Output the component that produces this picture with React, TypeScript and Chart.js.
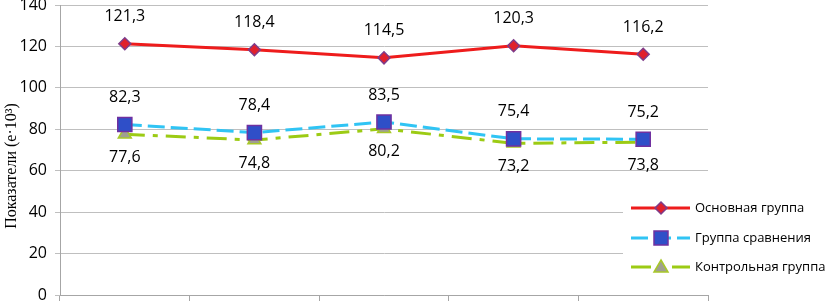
import React, { useEffect, useRef } from "react";
import { Chart, registerables } from "chart.js";

Chart.register(...registerables);

const categories = ["1", "2", "3", "4", "5"];
const mainGroup = [121.3, 118.4, 114.5, 120.3, 116.2];
const compareGroup = [82.3, 78.4, 83.5, 75.4, 75.2];
const controlGroup = [77.6, 74.8, 80.2, 73.2, 73.8];
const seriesNames = ["Основная группа", "Группа сравнения", "Контрольная группа"];
const yTicks = [0, 20, 40, 60, 80, 100, 120, 140];
const yTitle = "Показатели (е·10³)";

const RED = "#EE1C1C";
const CYAN = "#30C4F4";
const GREEN = "#9CCB14";
const TICK_FONT = "'Open Sans', 'DejaVu Sans', sans-serif";

const fmt = (v: number) => v.toFixed(1).replace(".", ",");

function drawMarker(ctx: CanvasRenderingContext2D, kind: string, x: number, y: number) {
  ctx.save();
  ctx.beginPath();
  if (kind === "diamond") {
    const r = 6;
    ctx.moveTo(x, y - r);
    ctx.lineTo(x + r, y);
    ctx.lineTo(x, y + r);
    ctx.lineTo(x - r, y);
    ctx.closePath();
    ctx.fillStyle = "#E0202C";
    ctx.strokeStyle = "#7E3C8A";
  } else if (kind === "square") {
    ctx.rect(x - 7, y - 7, 14, 14);
    ctx.fillStyle = "#2F4FC8";
    ctx.strokeStyle = "#7030A0";
  } else {
    ctx.moveTo(x, y - 7);
    ctx.lineTo(x + 7, y + 5);
    ctx.lineTo(x - 7, y + 5);
    ctx.closePath();
    ctx.fillStyle = "#A0A090";
    ctx.strokeStyle = "#A8C828";
  }
  ctx.lineWidth = 1.5;
  ctx.setLineDash([]);
  ctx.fill();
  ctx.stroke();
  ctx.restore();
}

const labelsPlugin = {
  id: "valueLabels",
  afterDatasetsDraw(chart: any) {
    const ctx = chart.ctx as CanvasRenderingContext2D;
    ctx.save();
    ctx.font = `16px ${TICK_FONT}`;
    ctx.fillStyle = "#000";
    ctx.textAlign = "center";
    ctx.textBaseline = "middle";
    const offsets = [-27, -27, 23];
    chart.data.datasets.forEach((ds: any, i: number) => {
      const meta = chart.getDatasetMeta(i);
      meta.data.forEach((pt: any, j: number) => {
        ctx.fillText(fmt(ds.data[j]), pt.x, pt.y + offsets[i]);
      });
    });
    ctx.restore();
  },
};

const legendPlugin = {
  id: "customLegend",
  afterDraw(chart: any) {
    const ctx = chart.ctx as CanvasRenderingContext2D;
    ctx.save();
    ctx.fillStyle = "#fff";
    ctx.fillRect(623, 190, 214, 92);
    const rows = [208, 238, 267];
    const styles = [
      { color: RED, dash: [] as number[], marker: "diamond" },
      { color: CYAN, dash: [17, 6], marker: "square" },
      { color: GREEN, dash: [20, 8, 5, 8], marker: "triangle" },
    ];
    styles.forEach((s, i) => {
      const y = rows[i];
      ctx.beginPath();
      ctx.strokeStyle = s.color;
      ctx.lineWidth = 3;
      ctx.setLineDash(s.dash);
      ctx.moveTo(631, y);
      ctx.lineTo(690, y);
      ctx.stroke();
      drawMarker(ctx, s.marker, 661, y);
      ctx.fillStyle = "#000";
      ctx.font = `13px ${TICK_FONT}`;
      ctx.textAlign = "left";
      ctx.textBaseline = "middle";
      ctx.fillText(seriesNames[i], 695, y);
    });
    ctx.restore();
  },
};

const yTitlePlugin = {
  id: "yTitle",
  afterDraw(chart: any) {
    const ctx = chart.ctx as CanvasRenderingContext2D;
    ctx.save();
    ctx.translate(12, 166);
    ctx.rotate(-Math.PI / 2);
    ctx.font = "16px 'Liberation Serif', 'DejaVu Serif', serif";
    ctx.fillStyle = "#000";
    ctx.textAlign = "center";
    ctx.textBaseline = "middle";
    ctx.fillText(yTitle, 0, 0);
    ctx.restore();
  },
};

export default function App() {
  const ref = useRef<HTMLCanvasElement>(null);
  useEffect(() => {
    document.body.style.margin = "0";
    const canvas = ref.current!;
    const chart = new Chart(canvas, {
      type: "line",
      data: {
        labels: categories,
        datasets: [
          {
            label: seriesNames[0],
            data: mainGroup,
            borderColor: RED,
            borderWidth: 3,
            pointStyle: "rectRot",
            pointRadius: 6,
            pointBackgroundColor: "#E0202C",
            pointBorderColor: "#7E3C8A",
            pointBorderWidth: 1.5,
            tension: 0,
          },
          {
            label: seriesNames[1],
            data: compareGroup,
            borderColor: CYAN,
            borderWidth: 3,
            borderDash: [17, 6],
            pointStyle: "rect",
            pointRadius: 10,
            pointBackgroundColor: "#2F4FC8",
            pointBorderColor: "#7030A0",
            pointBorderWidth: 1.5,
            tension: 0,
          },
          {
            label: seriesNames[2],
            data: controlGroup,
            borderColor: GREEN,
            borderWidth: 3,
            borderDash: [20, 8, 5, 8],
            pointStyle: "triangle",
            pointRadius: 7.5,
            pointBackgroundColor: "#A0A090",
            pointBorderColor: "#A8C828",
            pointBorderWidth: 1.5,
            tension: 0,
          },
        ],
      },
      options: {
        animation: false,
        responsive: false,
        maintainAspectRatio: false,
        layout: { autoPadding: false, padding: { top: 5, right: 129, left: 0, bottom: 0 } },
        plugins: { legend: { display: false }, tooltip: { enabled: false } },
        scales: {
          x: {
            offset: true,
            grid: {
              offset: true,
              drawOnChartArea: false,
              drawTicks: true,
              tickLength: 6,
              color: "#A6A6A6",
            },
            border: { color: "#A6A6A6" },
            ticks: { display: false },
            afterFit: (s: any) => {
              s.height = 6;
              s.paddingLeft = 0;
              s.paddingRight = 0;
            },
          },
          y: {
            min: 0,
            max: 140,
            afterBuildTicks: (s: any) => {
              s.ticks = yTicks.map((v) => ({ value: v }));
            },
            grid: { color: "#BFBFBF", tickLength: 5 },
            border: { color: "#A6A6A6" },
            ticks: {
              padding: 8,
              color: "#000",
              font: { family: TICK_FONT, size: 16, lineHeight: 0.55 },
            },
            afterFit: (s: any) => {
              s.width = 60;
              s.paddingTop = 0;
              s.paddingBottom = 0;
            },
          },
        },
      },
      plugins: [labelsPlugin, legendPlugin, yTitlePlugin],
    });
    return () => chart.destroy();
  }, []);
  return (
    <div style={{ position: "absolute", left: 0, top: 0, width: 837, height: 301 }}>
      <canvas ref={ref} width={837} height={301} />
    </div>
  );
}
